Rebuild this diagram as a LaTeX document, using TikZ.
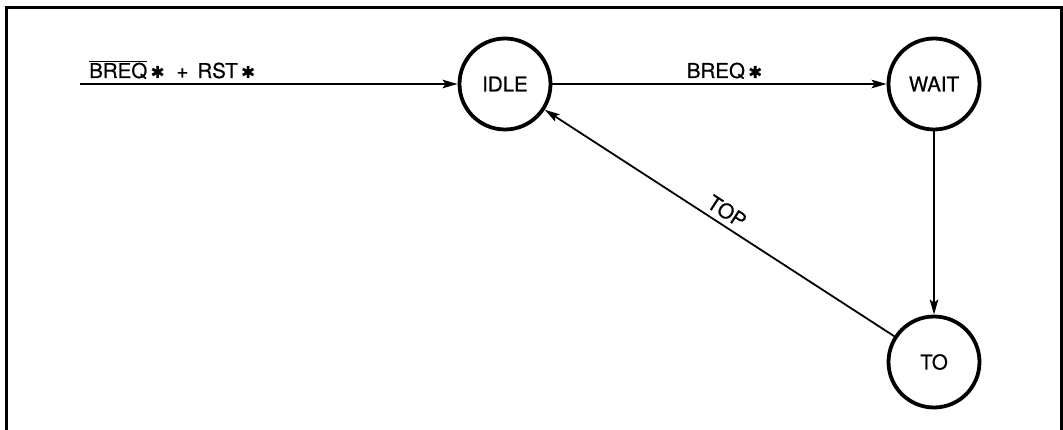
\documentclass[tikz,border=0pt]{standalone}
\usepackage{fontspec}
\setmainfont{TeX Gyre Heros}[FakeBold=0.5]
\newfontfamily\djv{DejaVu Sans}[FakeBold=0.5]
\usetikzlibrary{arrows.meta}
\newcommand{\starsym}{\,{\djv\scalebox{0.8}{✱}}}
\begin{document}
\begin{tikzpicture}[x=1pt,y=-1pt,
  state/.style={circle,draw,line width=3.8pt,minimum size=91pt,inner sep=0pt,font=\fontsize{20.5}{22}\selectfont},
  conn/.style={line width=1.8pt,-{Stealth[length=15pt,width=8.5pt,inset=3pt]}},
  lbl/.style={font=\fontsize{20.5}{22}\selectfont,inner sep=0pt}]
\useasboundingbox (0,0) rectangle (1063,430);
\draw[line width=3pt] (6,431) -- (6,8) -- (1061.5,8) -- (1061.5,431);
\node[state] (IDLE) at (505,84) {IDLE};
\node[state] (WAIT) at (934,84) {WAIT};
\node[state] (TO) at (934,362) {TO};
\coordinate (start) at (80,84);
\draw[conn] (start) -- (IDLE);
\node[lbl,anchor=base west] (l1) at (89,78) {$\overline{\mbox{BREQ}}$\starsym\hspace{12pt}+\hspace{9pt}RST\starsym};
\draw[conn] (IDLE) -- node[lbl,above=4pt,xshift=5pt] (l2) {BREQ\starsym} (WAIT);
\draw[conn] (WAIT) -- (TO);
\draw[conn] (TO) -- node[lbl,sloped,above=5pt] (l3) {TOP} (IDLE);
\end{tikzpicture}
\end{document}
